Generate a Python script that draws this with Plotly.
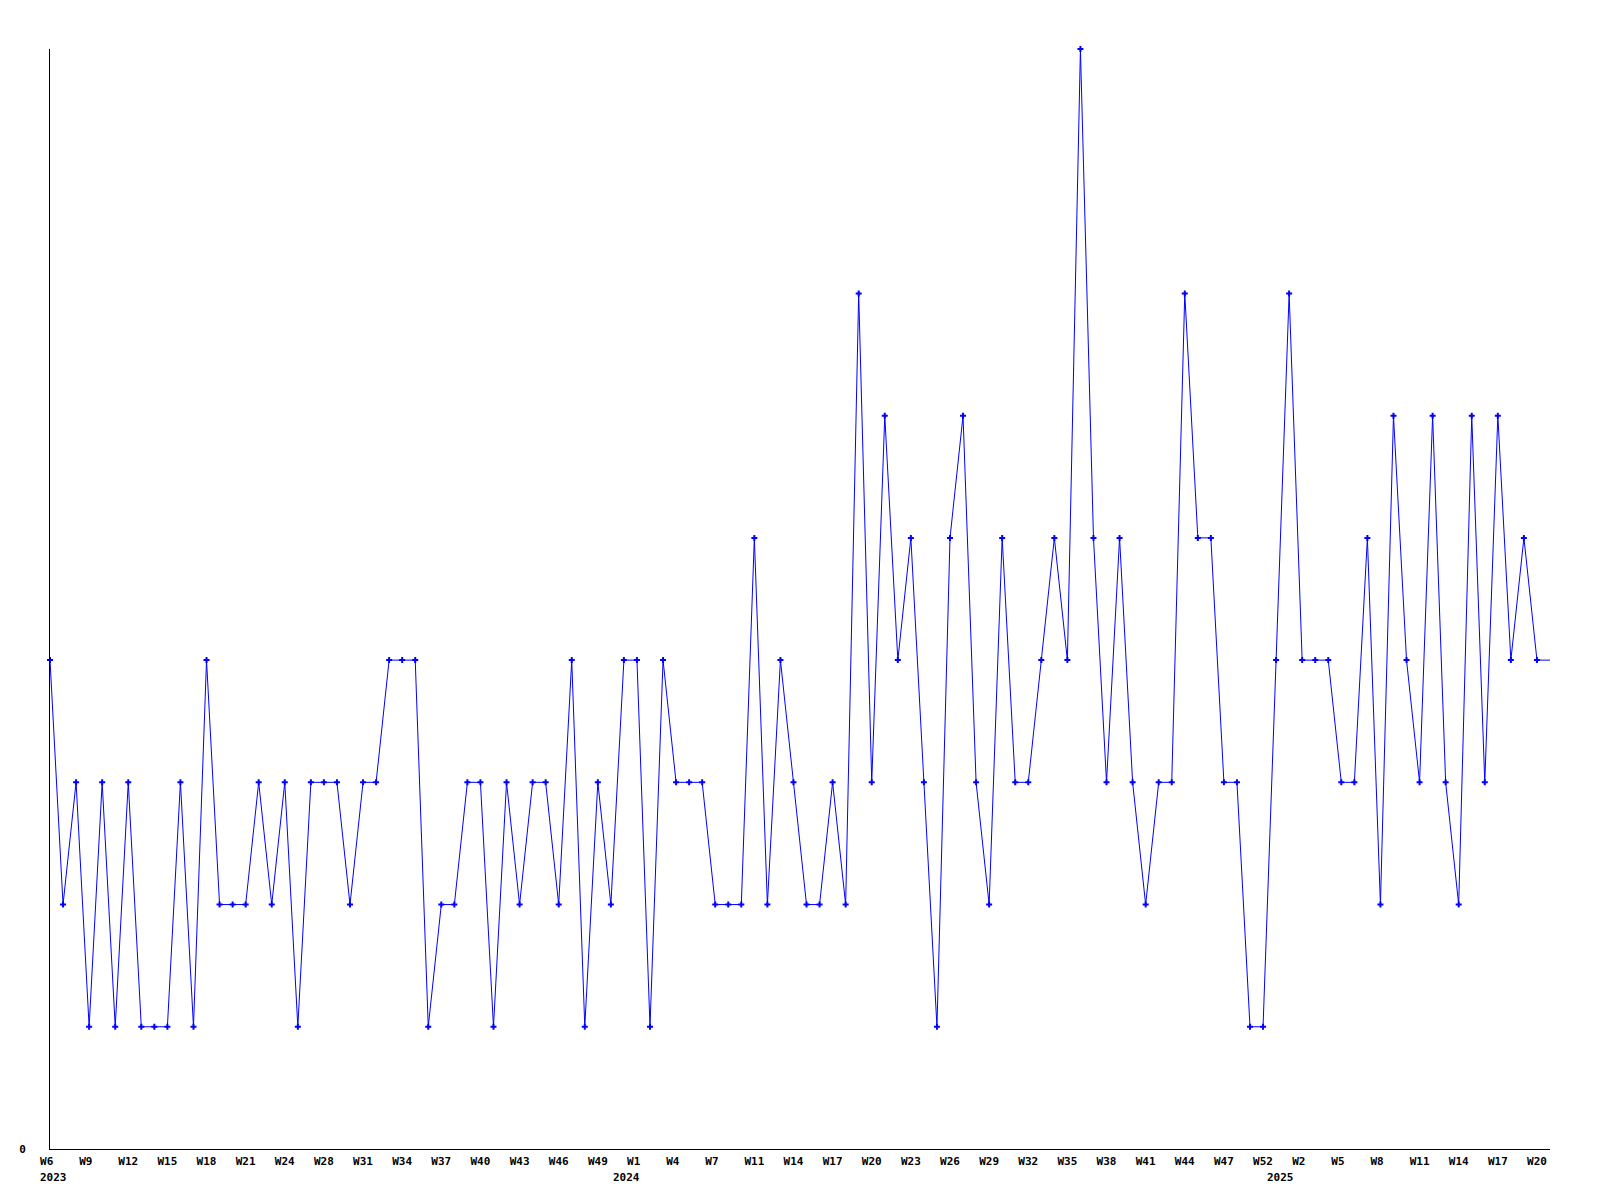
import plotly.graph_objects as go

# Weekly counts, 2023 W6 .. 2025 W20 (one point per week)
values = [4, 2, 3, 1, 3, 1, 3, 1, 1, 1,
          3, 1, 4, 2, 2, 2, 3, 2, 3, 1,
          3, 3, 3, 2, 3, 3, 4, 4, 4, 1,
          2, 2, 3, 3, 1, 3, 2, 3, 3, 2,
          4, 1, 3, 2, 4, 4, 1, 4, 3, 3,
          3, 2, 2, 2, 5, 2, 4, 3, 2, 2,
          3, 2, 7, 3, 6, 4, 5, 3, 1, 5,
          6, 3, 2, 5, 3, 3, 4, 5, 4, 9,
          5, 3, 5, 3, 2, 3, 3, 7, 5, 5,
          3, 3, 1, 1, 4, 7, 4, 4, 4, 3,
          3, 5, 2, 6, 4, 3, 6, 3, 2, 6,
          3, 6, 4, 5, 4]

tick_labels = ["W6", "W9", "W12", "W15", "W18", "W21", "W24", "W28", "W31",
               "W34", "W37", "W40", "W43", "W46", "W49", "W1", "W4", "W7",
               "W11", "W14", "W17", "W20", "W23", "W26", "W29", "W32", "W35",
               "W38", "W41", "W44", "W47", "W52", "W2", "W5", "W8", "W11",
               "W14", "W17", "W20"]

year_labels = ["2023", "2024", "2025"]
year_tick_index = [0, 15, 32]  # which tick label each year sits under

x = list(range(len(values)))
tick_step = 3
tickvals = [i * tick_step for i in range(len(tick_labels))]
ticktext = [t if len(t) >= 3 else t + "\u00a0" for t in tick_labels]

FONT = dict(family="DejaVu Sans Mono", size=11, color="#000000", weight="bold")
BLUE = "#0000ff"

fig = go.Figure()
# hold last value to the right edge
fig.add_trace(go.Scatter(
    x=[x[-1], x[-1] + 1], y=[values[-1], values[-1]],
    mode="lines", line=dict(color=BLUE, width=1), hoverinfo="skip",
    showlegend=False, cliponaxis=False))
fig.add_trace(go.Scatter(
    x=x, y=values, mode="lines+markers",
    line=dict(color=BLUE, width=1),
    marker=dict(symbol="cross", size=5, color=BLUE, line=dict(width=0)),
    showlegend=False, cliponaxis=False))

year_offsets = [0.28, -0.8, -1.7]
for lab, ti, off in zip(year_labels, year_tick_index, year_offsets):
    fig.add_annotation(
        x=tickvals[ti] + off, y=0, xref="x", yref="y",
        text=lab, showarrow=False, font=FONT,
        xanchor="center", yanchor="top", yshift=-20)

fig.update_layout(
    width=1600, height=1200,
    margin=dict(l=50, r=50, t=49, b=51, pad=0),
    paper_bgcolor="#ffffff", plot_bgcolor="#ffffff",
    showlegend=False,
    xaxis=dict(
        range=[0, len(values)], showgrid=False, zeroline=False,
        showline=True, linecolor="#000000", linewidth=1,
        tickmode="array", tickvals=tickvals, ticktext=ticktext,
        ticks="", tickfont=FONT, tickangle=0, ticklabelstandoff=2),
    yaxis=dict(
        range=[0, 9], showgrid=False, zeroline=False,
        showline=True, linecolor="#000000", linewidth=1,
        tickmode="array", tickvals=[0], ticktext=["0"],
        ticks="", tickfont=FONT, ticklabelstandoff=21),
)

fig.write_html("out.html", config={"displayModeBar": False},
               post_script="document.body.style.margin='0';")
